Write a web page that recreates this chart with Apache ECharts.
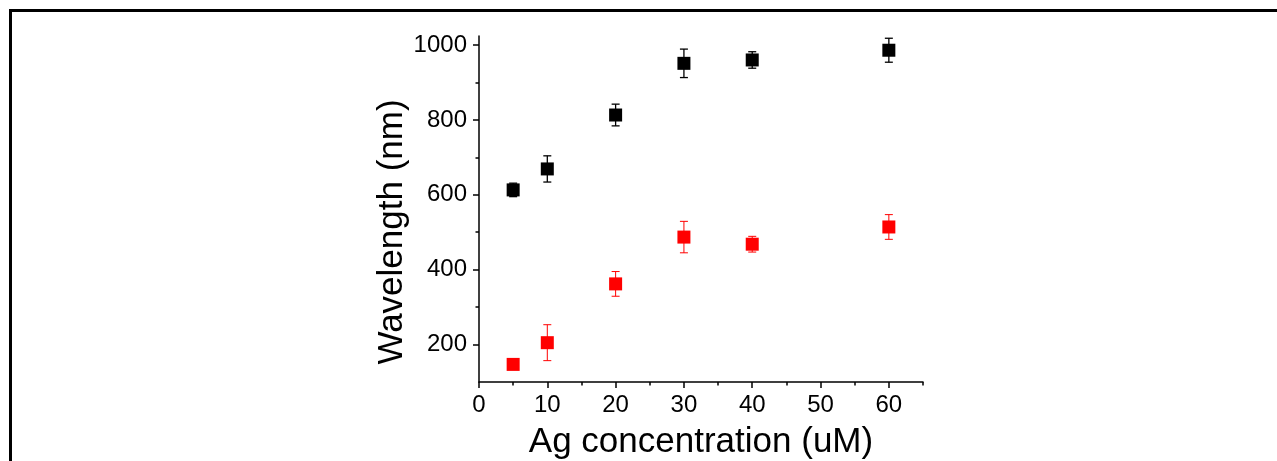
<!DOCTYPE html>
<html>
<head>
<meta charset="utf-8">
<script src="https://cdn.jsdelivr.net/npm/echarts@6/dist/echarts.min.js"></script>
<style>
  html, body { margin: 0; padding: 0; background: #fff; }
  #chart { width: 1277px; height: 461px; position: absolute; left: 0; top: 0; }
  #frame { position: absolute; left: 9px; top: 9px; right: 0; bottom: 0;
           border-top: 3px solid #000; border-left: 3px solid #000; pointer-events: none; }
</style>
</head>
<body>
<div id="chart"></div>
<div id="frame"></div>
<script>
// Ag concentration (uM)
var xValues = [5, 10, 20, 30, 40, 60];
// black series: wavelength and error
var blackY = [613, 669, 813, 951, 960, 986];
var blackErr = [18, 35, 29, 38, 22, 32];
// red series
var redY = [147, 205, 362, 487, 468, 514];
var redErr = [8, 48, 33, 42, 21, 33];

var yMajorTicks = [200, 400, 600, 800, 1000];
var yMinorTicks = [300, 500, 700, 900];
var xMajorTicks = [0, 10, 20, 30, 40, 50, 60];
var xMinorTicks = [5, 15, 25, 35, 45, 55, 65];

var chartDom = document.getElementById('chart');
var myChart = echarts.init(chartDom);

function points(ys) {
  return xValues.map(function (x, i) { return [x, ys[i]]; });
}
function errData(ys, errs) {
  return xValues.map(function (x, i) { return [x, ys[i] - errs[i], ys[i] + errs[i]]; });
}
function errorBar(color, width) {
  return function (params, api) {
    var lo = api.coord([api.value(0), api.value(1)]);
    var hi = api.coord([api.value(0), api.value(2)]);
    var half = 4;
    var style = { stroke: color, lineWidth: width, fill: null };
    return {
      type: 'group',
      children: [
        { type: 'line', shape: { x1: lo[0], y1: lo[1], x2: hi[0], y2: hi[1] }, style: style },
        { type: 'line', shape: { x1: lo[0] - half, y1: lo[1], x2: lo[0] + half, y2: lo[1] }, style: style },
        { type: 'line', shape: { x1: hi[0] - half, y1: hi[1], x2: hi[0] + half, y2: hi[1] }, style: style }
      ]
    };
  };
}

var font = 'Arial, "Liberation Sans", sans-serif';
var axisLine = { lineStyle: { color: '#000', width: 1.5 } };

var option = {
  animation: false,
  grid: { left: 479, right: 354, top: 36, bottom: 79, outerBoundsMode: 'none', containLabel: false },
  xAxis: [
    {
      type: 'value', min: 0, max: 65,
      name: 'Ag concentration (uM)', nameLocation: 'middle', nameGap: 43,
      nameTextStyle: { fontFamily: font, fontSize: 35, color: '#000' },
      axisLine: axisLine,
      axisTick: { customValues: xMajorTicks, length: 6, lineStyle: { color: '#000', width: 1.5 } },
      axisLabel: { customValues: xMajorTicks, fontFamily: font, fontSize: 24, color: '#000', margin: 11 },
      splitLine: { show: false }
    },
    {
      type: 'value', min: 0, max: 65, position: 'bottom',
      axisLine: { show: false },
      axisTick: { customValues: xMinorTicks, length: 3.5, lineStyle: { color: '#000', width: 1.5 } },
      axisLabel: { show: false },
      splitLine: { show: false }
    }
  ],
  yAxis: [
    {
      type: 'value', min: 100, max: 1024,
      name: 'Wavelength (nm)', nameLocation: 'middle', nameGap: 66,
      nameTextStyle: { fontFamily: font, fontSize: 35, color: '#000', padding: [0, 46, 0, 0] },
      axisLine: axisLine,
      axisTick: { customValues: yMajorTicks, length: 6, lineStyle: { color: '#000', width: 1.5 } },
      axisLabel: {
        customValues: yMajorTicks, fontFamily: font, fontSize: 24, color: '#000', margin: 12,
        formatter: function (v) { return String(v); }
      },
      splitLine: { show: false }
    },
    {
      type: 'value', min: 100, max: 1024, position: 'left',
      axisLine: { show: false },
      axisTick: { customValues: yMinorTicks, length: 3.5, lineStyle: { color: '#000', width: 1.5 } },
      axisLabel: { show: false },
      splitLine: { show: false }
    }
  ],
  series: [
    {
      type: 'custom', name: 'blackErr', renderItem: errorBar('#000', 1.3),
      data: errData(blackY, blackErr), encode: { x: 0, y: [1, 2] }, z: 1
    },
    {
      type: 'custom', name: 'redErr', renderItem: errorBar('#ff0000', 1),
      data: errData(redY, redErr), encode: { x: 0, y: [1, 2] }, z: 1
    },
    {
      type: 'scatter', name: 'black', symbol: 'rect', symbolSize: 13,
      itemStyle: { color: '#000', opacity: 1 }, data: points(blackY), z: 3
    },
    {
      type: 'scatter', name: 'red', symbol: 'rect', symbolSize: 13,
      itemStyle: { color: '#ff0000', opacity: 1 }, data: points(redY), z: 3
    }
  ]
};
option && myChart.setOption(option);
</script>
</body>
</html>
